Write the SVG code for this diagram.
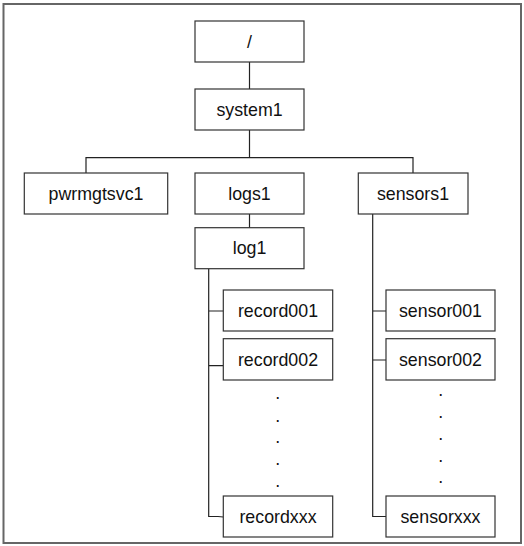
<svg xmlns="http://www.w3.org/2000/svg" width="524" height="546" viewBox="0 0 524 546">
<style>
.box{fill:#fff;stroke:#333;stroke-width:1.2}
.lbl{font-family:"Liberation Sans",Arial,sans-serif;font-size:17.8px;fill:#111;text-anchor:middle}
.ln{fill:none;stroke:#222;stroke-width:1.2}
</style>
<rect x="0" y="0" width="524" height="546" fill="#fff"/>
<rect x="3.5" y="4" width="517.5" height="539" fill="none" stroke="#666" stroke-width="2"/>
<g id="connectors">
<path class="ln" d="M249.5 61.7V89"/>
<path class="ln" d="M249.5 130V157.7M86 173V157.7H413V173"/>
<path class="ln" d="M249.5 214V228"/>
<path class="ln" d="M208.7 268.7V516.5H218L223.3 517M208.7 311H223.3M208.7 365.7H223.3"/>
<path class="ln" d="M372.7 214V516.5H386M372.7 311H386M372.7 360H386"/>
</g>
<g id="root"><rect class="box" x="195" y="21" width="109" height="41"/><text class="lbl" x="249.5" y="47.7">/</text></g>
<g id="system1"><rect class="box" x="195" y="89" width="109" height="41"/><text class="lbl" x="249.5" y="115.7">system1</text></g>
<g id="pwrmgtsvc1"><rect class="box" x="24.3" y="173" width="143.4" height="41"/><text class="lbl" x="96" y="199.7">pwrmgtsvc1</text></g>
<g id="logs1"><rect class="box" x="195" y="173" width="109" height="41"/><text class="lbl" x="249.5" y="199.7">logs1</text></g>
<g id="sensors1"><rect class="box" x="358.3" y="173" width="109.7" height="41"/><text class="lbl" x="413" y="199.7">sensors1</text></g>
<g id="log1"><rect class="box" x="195" y="227.7" width="109" height="41"/><text class="lbl" x="249.5" y="254.4">log1</text></g>
<g id="record001"><rect class="box" x="223.3" y="290" width="109.4" height="41"/><text class="lbl" x="278" y="316.7">record001</text></g>
<g id="record002"><rect class="box" x="223.3" y="338.7" width="109.4" height="41.3"/><text class="lbl" x="278" y="365.5">record002</text></g>
<g id="recordxxx"><rect class="box" x="223.3" y="496" width="109.4" height="41"/><text class="lbl" x="278" y="522.7">recordxxx</text></g>
<g id="sensor001"><rect class="box" x="386" y="290" width="109" height="41"/><text class="lbl" x="440.5" y="316.7">sensor001</text></g>
<g id="sensor002"><rect class="box" x="386" y="338.7" width="109" height="41.3"/><text class="lbl" x="440.5" y="365.5">sensor002</text></g>
<g id="sensorxxx"><rect class="box" x="386" y="496" width="109" height="41"/><text class="lbl" x="440.5" y="522.7">sensorxxx</text></g>
<g id="record-dots">
<text class="lbl" x="277.7" y="399">.</text>
<text class="lbl" x="277.7" y="421.7">.</text>
<text class="lbl" x="277.7" y="443">.</text>
<text class="lbl" x="277.7" y="465">.</text>
<text class="lbl" x="277.7" y="486.7">.</text>
</g>
<g id="sensor-dots">
<text class="lbl" x="440.7" y="396">.</text>
<text class="lbl" x="440.7" y="417.7">.</text>
<text class="lbl" x="440.7" y="440">.</text>
<text class="lbl" x="440.7" y="461.7">.</text>
<text class="lbl" x="440.7" y="483">.</text>
</g>
</svg>
